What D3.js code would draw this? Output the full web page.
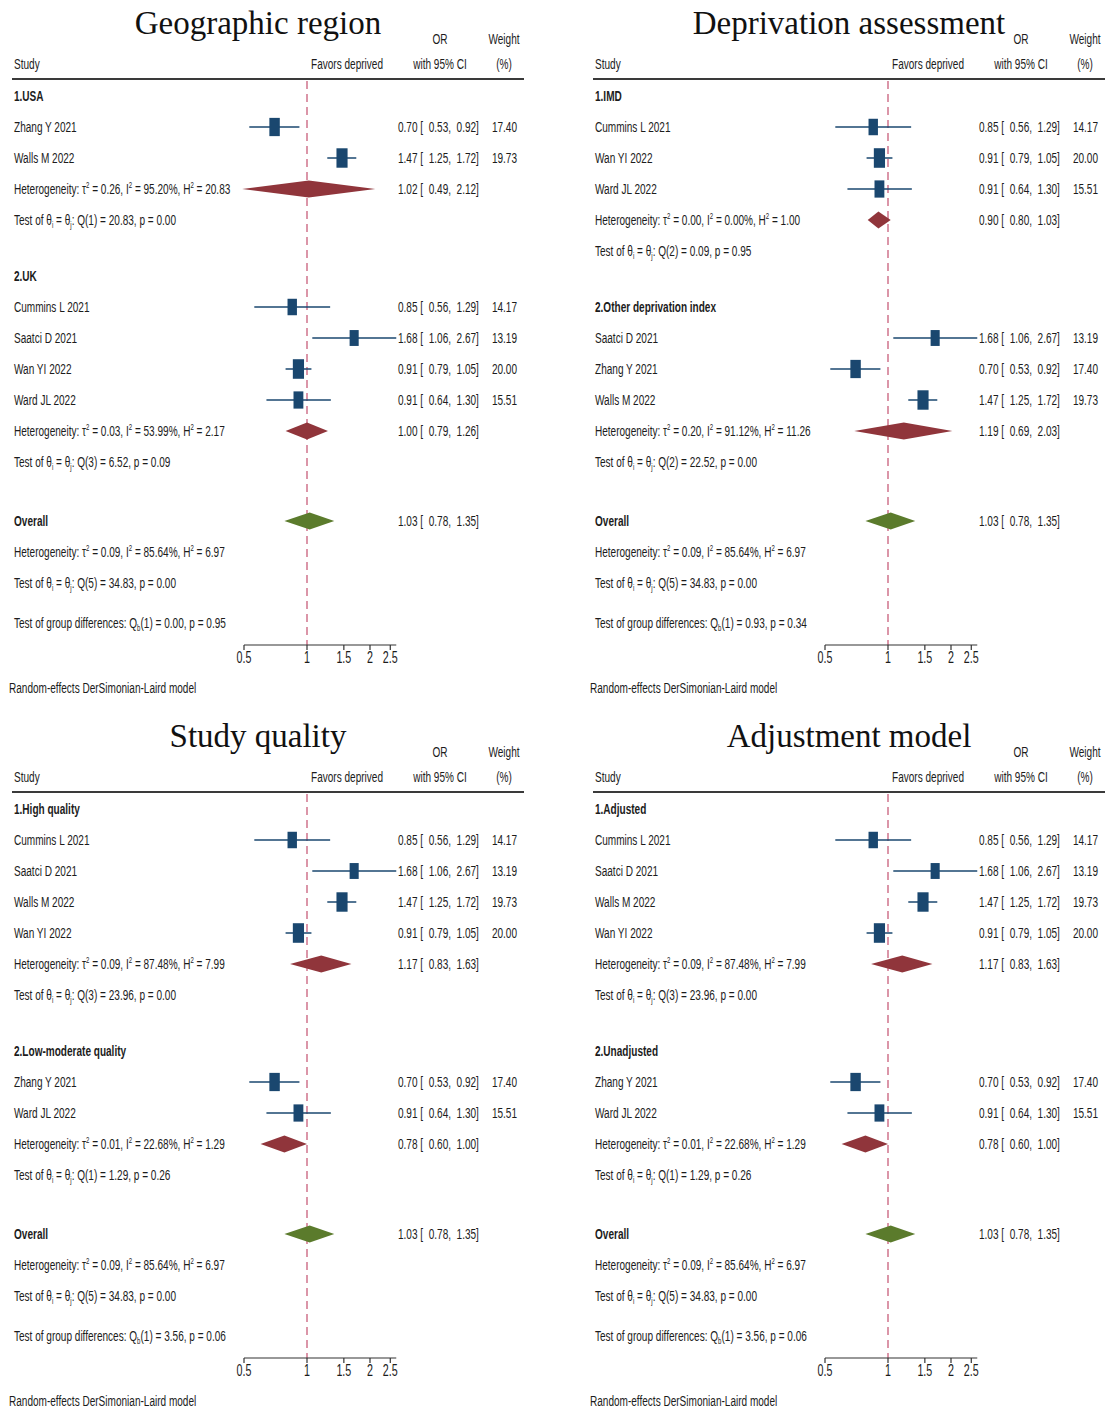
<!DOCTYPE html>
<html>
<head>
<meta charset="utf-8">
<script src="https://cdn.jsdelivr.net/npm/d3@7"></script>
<style>
  body { margin: 0; background: #fff; }
  svg { display: block; }
  text { fill: #1c1c1c; font-family: "Liberation Sans", Arial, sans-serif; white-space: pre; }
  .title { font-family: "Liberation Serif", "Times New Roman", serif; fill: #111; }
</style>
</head>
<body>
<svg id="chart" width="1107" height="1410"></svg>
<script>
// panel titles and subgroup names
var panelTitles = ["Geographic region", "Deprivation assessment", "Study quality", "Adjustment model"];
var groupNames = [
  ["1.USA", "2.UK"],
  ["1.IMD", "2.Other deprivation index"],
  ["1.High quality", "2.Low-moderate quality"],
  ["1.Adjusted", "2.Unadjusted"]
];

// individual studies: [name, OR, lower, upper, weight]
var studyCummins = ["Cummins L 2021", 0.85, 0.56, 1.29, 14.17];
var studySaatci  = ["Saatci D 2021", 1.68, 1.06, 2.67, 13.19];
var studyWan     = ["Wan YI 2022", 0.91, 0.79, 1.05, 20.00];
var studyWard    = ["Ward JL 2022", 0.91, 0.64, 1.30, 15.51];
var studyZhang   = ["Zhang Y 2021", 0.70, 0.53, 0.92, 17.40];
var studyWalls   = ["Walls M 2022", 1.47, 1.25, 1.72, 19.73];

// studies in each subgroup, per panel
var groupStudies = [
  [[studyZhang, studyWalls], [studyCummins, studySaatci, studyWan, studyWard]],
  [[studyCummins, studyWan, studyWard], [studySaatci, studyZhang, studyWalls]],
  [[studyCummins, studySaatci, studyWalls, studyWan], [studyZhang, studyWard]],
  [[studyCummins, studySaatci, studyWalls, studyWan], [studyZhang, studyWard]]
];

// subgroup pooled results: [OR, lower, upper, tau2, I2, H2, Qdf, Q, p]
var groupPooled = [
  [[1.02, 0.49, 2.12, "0.26", "95.20", "20.83", 1, "20.83", "0.00"],
   [1.00, 0.79, 1.26, "0.03", "53.99", "2.17", 3, "6.52", "0.09"]],
  [[0.90, 0.80, 1.03, "0.00", "0.00", "1.00", 2, "0.09", "0.95"],
   [1.19, 0.69, 2.03, "0.20", "91.12", "11.26", 2, "22.52", "0.00"]],
  [[1.17, 0.83, 1.63, "0.09", "87.48", "7.99", 3, "23.96", "0.00"],
   [0.78, 0.60, 1.00, "0.01", "22.68", "1.29", 1, "1.29", "0.26"]],
  [[1.17, 0.83, 1.63, "0.09", "87.48", "7.99", 3, "23.96", "0.00"],
   [0.78, 0.60, 1.00, "0.01", "22.68", "1.29", 1, "1.29", "0.26"]]
];

// overall pooled result (same in every panel)
var overallPooled = [1.03, 0.78, 1.35, "0.09", "85.64", "6.97", 5, "34.83", "0.00"];

// test of group differences: [Qb, p]
var groupDiff = [["0.00", "0.95"], ["0.93", "0.34"], ["3.56", "0.06"], ["3.56", "0.06"]];

var axisTicks = [0.5, 1, 1.5, 2, 2.5];

// ---------------------------------------------------------------
var svg = d3.select("#chart");
var f2 = d3.format(".2f");
var sx = 0.67;       // the original figure is squeezed horizontally
var navy = "#1a476f", cranberry = "#90353b", olive = "#5b7b2c", refCol = "#cc6a84";

var panelPos = [[0, 0], [581, 0], [0, 713], [581, 713]];
var titleX = [258, 268, 258, 268];
var axisY = 645;

var x = d3.scaleLog().domain([0.5, 2.67]).range([244, 244 + 90.89 * Math.log(2.67 / 0.5)]);

function txt(g, px, py, parts, opt) {
  opt = opt || {};
  var size = opt.size || 15;
  var t = g.append("g")
      .attr("transform", "translate(" + px + "," + (py + 5) + ") scale(" + sx + ",1)")
    .append("text")
      .attr("text-anchor", opt.anchor || "start")
      .style("font-size", size + "px")
      .style("font-weight", opt.bold ? "bold" : "normal");
  if (typeof parts === "string") parts = [parts];
  var shift = 0;
  parts.forEach(function(p) {
    if (typeof p === "string") {
      t.append("tspan").attr("dy", -shift).text(p);
      shift = 0;
    } else if (p.sup) {
      t.append("tspan").attr("dy", -6 - shift).style("font-size", "9px").text(p.sup);
      shift = -6;
    } else if (p.sub) {
      t.append("tspan").attr("dy", 3 - shift).style("font-size", "9px").text(p.sub);
      shift = 3;
    }
  });
  return t;
}

function ciText(r) { return f2(r[1]) + " [  " + f2(r[2]) + ",  " + f2(r[3]) + "]"; }
function poolText(r) { return f2(r[0]) + " [  " + f2(r[1]) + ",  " + f2(r[2]) + "]"; }

function diamond(g, r, y, col) {
  var h = 8.5;
  g.append("path")
    .attr("d", "M" + x(r[1]) + "," + y + "L" + x(r[0]) + "," + (y - h) +
               "L" + x(r[2]) + "," + y + "L" + x(r[0]) + "," + (y + h) + "Z")
    .attr("fill", col);
}

function hetParts(r) {
  return ["Heterogeneity: \u03C4", {sup: "2"}, " = " + r[3] + ", I", {sup: "2"},
          " = " + r[4] + "%, H", {sup: "2"}, " = " + r[5]];
}
function testParts(r) {
  return ["Test of \u03B8", {sub: "i"}, " = \u03B8", {sub: "j"}, ": Q(" + r[6] + ") = " + r[7] + ", p = " + r[8]];
}

panelTitles.forEach(function(title, pi) {
  var g = svg.append("g").attr("transform", "translate(" + panelPos[pi][0] + "," + panelPos[pi][1] + ")");

  g.append("text").attr("class", "title")
    .attr("x", titleX[pi]).attr("y", 34)
    .attr("text-anchor", "middle")
    .style("font-size", "33px")
    .text(title);

  // header
  txt(g, 440, 39, "OR", {anchor: "middle"});
  txt(g, 504, 39, "Weight", {anchor: "middle"});
  txt(g, 14, 64, "Study");
  txt(g, 347, 64, "Favors deprived", {anchor: "middle"});
  txt(g, 440, 64, "with 95% CI", {anchor: "middle"});
  txt(g, 504, 64, "(%)", {anchor: "middle"});
  g.append("line").attr("x1", 12).attr("x2", 524).attr("y1", 79).attr("y2", 79)
    .attr("stroke", "#3a3a3a").attr("stroke-width", 2);

  // build rows
  var rows = [];
  groupNames[pi].forEach(function(gn, gi) {
    rows.push({type: "group", label: gn, gap: gi === 0 ? 0 : 56});
    groupStudies[pi][gi].forEach(function(s) { rows.push({type: "study", d: s}); });
    rows.push({type: "het", d: groupPooled[pi][gi]});
    rows.push({type: "test", d: groupPooled[pi][gi]});
  });
  rows.push({type: "overall", d: overallPooled, gap: 59});
  rows.push({type: "het", d: overallPooled, plain: true});
  rows.push({type: "test", d: overallPooled});
  rows.push({type: "gdiff", d: groupDiff[pi], gap: 40});

  var y = 96 - 31;
  rows.forEach(function(r, i) {
    y += (r.gap !== undefined ? r.gap : 31);
    if (i === 0) y = 96;
    r.y = y;
  });

  // reference line at OR = 1
  g.append("line")
    .attr("x1", x(1)).attr("x2", x(1)).attr("y1", 81).attr("y2", axisY)
    .attr("stroke", refCol).attr("stroke-width", 1.4)
    .attr("stroke-dasharray", "8,5");

  rows.forEach(function(r) {
    if (r.type === "group") {
      txt(g, 14, r.y, r.label, {bold: true});
    } else if (r.type === "study") {
      var s = r.d;
      txt(g, 14, r.y, s[0]);
      g.append("line").attr("x1", x(s[2])).attr("x2", x(s[3]))
        .attr("y1", r.y).attr("y2", r.y)
        .attr("stroke", navy).attr("stroke-width", 1.5);
      var w = 2.5 * Math.sqrt(s[4]), h = w * 1.75;
      g.append("rect").attr("x", x(s[1]) - w / 2).attr("y", r.y - h / 2)
        .attr("width", w).attr("height", h)
        .attr("fill", navy);
      txt(g, 398, r.y, ciText(s));
      txt(g, 517, r.y, f2(s[4]), {anchor: "end"});
    } else if (r.type === "het") {
      txt(g, 14, r.y, hetParts(r.d));
      if (!r.plain) {
        diamond(g, r.d, r.y, cranberry);
        txt(g, 398, r.y, poolText(r.d));
      }
    } else if (r.type === "test") {
      txt(g, 14, r.y, testParts(r.d));
    } else if (r.type === "overall") {
      txt(g, 14, r.y, "Overall", {bold: true});
      diamond(g, r.d, r.y, olive);
      txt(g, 398, r.y, poolText(r.d));
    } else if (r.type === "gdiff") {
      txt(g, 14, r.y, ["Test of group differences: Q", {sub: "b"}, "(1) = " + r.d[0] + ", p = " + r.d[1]]);
    }
  });

  // x axis
  var ax = g.append("g").attr("transform", "translate(0," + axisY + ")");
  ax.append("line").attr("x1", x(0.5)).attr("x2", x(2.67))
    .attr("stroke", "#333").attr("stroke-width", 1.2);
  ax.selectAll("line.tick").data(axisTicks).enter().append("line")
    .attr("class", "tick")
    .attr("x1", function(d) { return x(d); }).attr("x2", function(d) { return x(d); })
    .attr("y1", 0).attr("y2", 5)
    .attr("stroke", "#333").attr("stroke-width", 1.2);
  axisTicks.forEach(function(d) {
    txt(ax, x(d), 13, String(d), {anchor: "middle", size: 16});
  });

  txt(g, 9, 688, "Random-effects DerSimonian-Laird model");
});
</script>
</body>
</html>
